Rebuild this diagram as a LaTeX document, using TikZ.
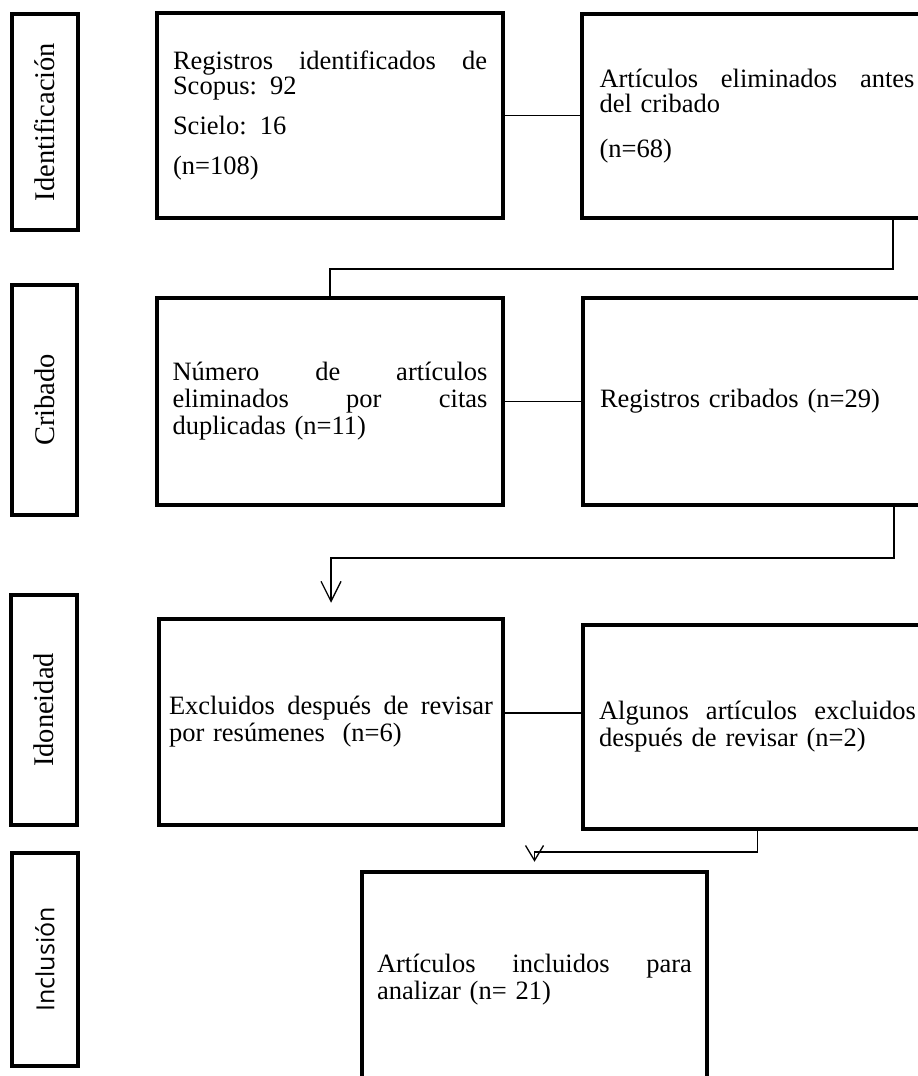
\documentclass[tikz,border=0pt]{standalone}
\usepackage{fontspec}
\setmainfont{Liberation Serif}
\newfontfamily\incfont{Open Sans}
\usetikzlibrary{arrows.meta}
\begin{document}
\begin{tikzpicture}[x=1pt,y=-1pt,
  lab/.style={draw, line width=4pt, rotate=90, inner sep=0pt, font=\fontsize{28.5}{30}\selectfont},
  box/.style={draw, line width=4.5pt, inner sep=0pt, align=left, font=\fontsize{26.5}{25}\selectfont},
  boxb/.style={box, font=\fontsize{26.5}{27}\selectfont},
  conn/.style={line width=1.3pt},
  arrA/.style={conn, -{Straight Barb[length=20pt,width=20pt]}},
  arrB/.style={conn, -{Straight Barb[length=15pt,width=18pt]}}]
\useasboundingbox (0,0) rectangle (918,1076);
\clip (0,0) rectangle (918,1076);

% stage labels
\node[lab, minimum width=216pt, minimum height=66pt] (l1) at (45,122) {Identificación};
\node[lab, minimum width=230pt, minimum height=65pt] (l2) at (44.5,400) {Cribado};
\node[lab, minimum width=230pt, minimum height=66pt] (l3) at (44,710) {Idoneidad};
\node[lab, minimum width=213pt, minimum height=66pt, font=\incfont\fontsize{25}{27}\selectfont] (l4) at (45,959.5) {Inclusión};

% boxes
\node[box, minimum width=346pt, minimum height=205pt, text width=314pt] (b1) at (330,115.5)
  {Registros\hfill identificados\hfill de\\ Scopus: 92\\[15pt] Scielo: 16\\[15pt] (n=108)};
\node[box, minimum width=350pt, minimum height=204pt, text width=315pt] (b2) at (757,116)
  {Artículos\hfill eliminados\hfill antes\\ del cribado\\[20pt] (n=68)};
\node[boxb, minimum width=346pt, minimum height=207pt, text width=315pt] (b3) at (330,401.5)
  {Número\hfill de\hfill artículos\\ eliminados\hfill por\hfill citas\\ duplicadas (n=11)};
\node[boxb, minimum width=349pt, minimum height=207pt, text width=315pt] (b4) at (757.5,401.5)
  {Registros cribados (n=29)};
\node[boxb, minimum width=344pt, minimum height=206pt, text width=324pt] (b5) at (331,722)
  {Excluidos\hfill después\hfill de\hfill revisar\\ por resúmenes\ \ (n=6)};
\node[boxb, minimum width=349pt, minimum height=204pt, text width=317pt] (b6) at (757.5,727)
  {Algunos\hfill artículos\hfill excluidos\\ después de revisar (n=2)};
\node[boxb, minimum width=345pt, minimum height=216pt, text width=315pt] (b7) at (534.5,980)
  {Artículos\hfill incluidos\hfill para\\ analizar (n= 21)};

% connector bends
\coordinate (k1) at (893,269);
\coordinate (k2) at (894,558);
\coordinate (k3) at (757.5,852);

% connectors
\draw[conn] (b1.east) -- (b1.east -| b2.west);
\draw[conn] (b2.south -| k1) -- (k1) -| (b3.north);
\draw[conn] (b3.east) -- (b3.east -| b4.west);
\draw[arrA] (b4.south -| k2) -- (k2) -| ([yshift=14pt]b5.north);
\draw[conn] ([yshift=9pt]b5.east) -- ([yshift=9pt]b5.east -| b6.west);
\draw[arrB] (b6.south) -- (k3) -| ([yshift=8pt]b7.north);
\end{tikzpicture}
\end{document}
